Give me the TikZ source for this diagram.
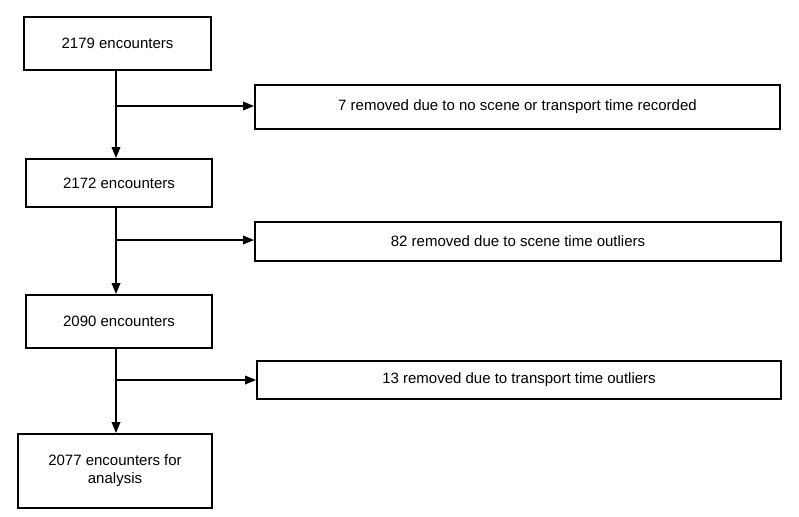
\documentclass[tikz,border=0pt]{standalone}
\usepackage{fontspec}
\setmainfont{Liberation Sans}
\usetikzlibrary{arrows.meta}
\begin{document}
\begin{tikzpicture}[x=1pt,y=-1pt,
  box/.style={draw=black,line width=1.8pt,inner sep=0pt,align=center,font=\fontsize{15}{18}\selectfont},
  arr/.style={line width=1.8pt,-{Triangle[length=11pt,width=8.5pt]}}]
\useasboundingbox (0,0) rectangle (799,516);
\node[box,minimum width=187pt,minimum height=53pt] (b1) at (117.5,43.5) {2179 encounters};
\node[box,minimum width=186pt,minimum height=48pt] (b2) at (119,183) {2172 encounters};
\node[box,minimum width=186pt,minimum height=53pt] (b3) at (119,321.5) {2090 encounters};
\node[box,minimum width=194pt,minimum height=74pt] (b4) at (115,471) {2077 encounters for\\analysis};
\node[box,minimum width=525pt,minimum height=44pt] (r1) at (517.5,107) {7 removed due to no scene or transport time recorded};
\node[box,minimum width=526pt,minimum height=39pt] (r2) at (518,241.5) {82 removed due to scene time outliers};
\node[box,minimum width=524pt,minimum height=38pt] (r3) at (519,380) {13 removed due to transport time outliers};
\coordinate (j1) at (116,106);
\coordinate (j2) at (116,240);
\coordinate (j3) at (116,380);
\draw[arr] (b1.south -| j1) -- (b2.north -| j1);
\draw[arr] (j1) -- (r1.west |- j1);
\draw[arr] (b2.south -| j2) -- (b3.north -| j2);
\draw[arr] (j2) -- (r2.west |- j2);
\draw[arr] (b3.south -| j3) -- (b4.north -| j3);
\draw[arr] (j3) -- (r3.west |- j3);
\end{tikzpicture}
\end{document}
